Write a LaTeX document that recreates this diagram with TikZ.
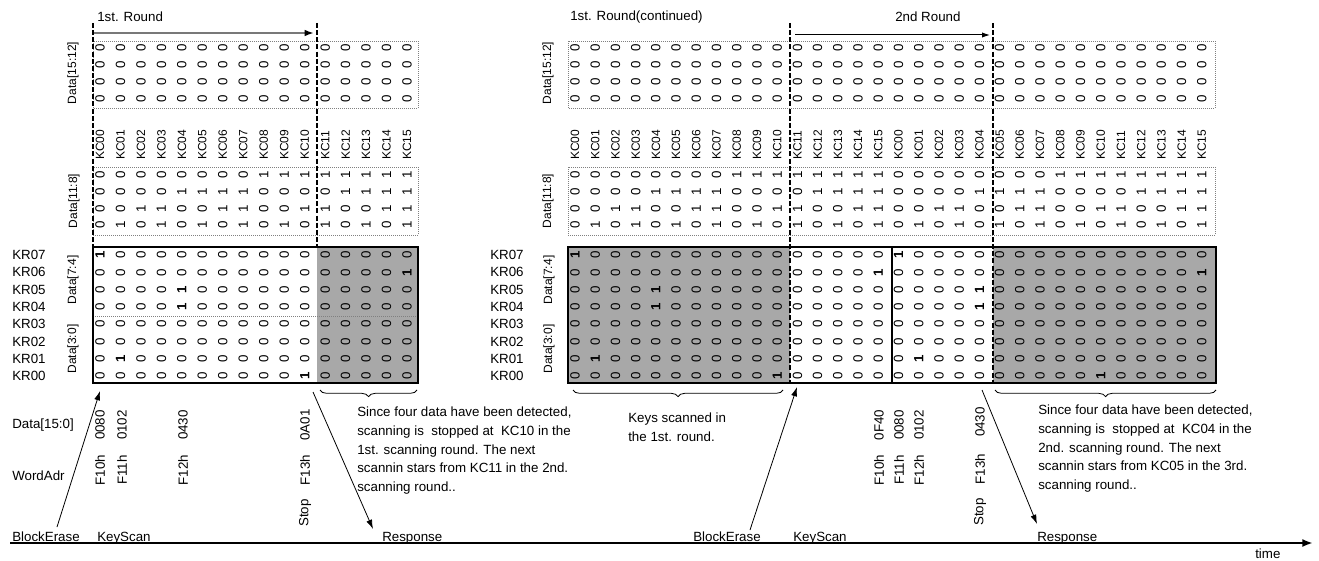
\documentclass[tikz,border=0pt]{standalone}
\usepackage{fontspec}
\setmainfont{Liberation Sans}
\usetikzlibrary{arrows.meta,decorations.pathreplacing}
\definecolor{shadegray}{RGB}{168,168,168}
\definecolor{arrgray}{RGB}{120,120,120}
\tikzset{
 dig/.style={rotate=90,inner sep=0pt,font=\fontsize{10}{10}\selectfont},
 kclab/.style={rotate=90,anchor=west,inner sep=0pt,font=\fontsize{9}{9}\selectfont},
 lab/.style={inner sep=0pt,font=\fontsize{10}{12}\selectfont},
 vlab/.style={rotate=90,inner sep=0pt,font=\fontsize{9}{9}\selectfont},
 rlab/.style={rotate=90,inner sep=0pt,font=\fontsize{10}{10}\selectfont},
 dotbox/.style={draw=gray,densely dotted,line width=0.5pt},
 thickbox/.style={draw=black,line width=2.1pt},
 vdash/.style={draw=black,line width=1.4pt,dash pattern=on 3.75pt off 1.6pt},
 ann/.style={inner sep=0pt,align=left,anchor=north west,font=\fontsize{10}{13.9}\selectfont},
 pointer/.style={draw=black,line width=0.6pt,-{Latex[length=7pt,width=4.5pt]}},
 bracestyle/.style={draw=black,line width=0.6pt,decorate,decoration={brace,mirror,amplitude=5pt}},
}
\newcommand\keybit[2]{\pgfmathtruncatemacro\kv{((#1==7)&&(#2==0))||((#1==6)&&(#2==15))||(((#1==5)||(#1==4))&&(#2==4))||((#1==1)&&(#2==1))||((#1==0)&&(#2==10))}}
\begin{document}
\begin{tikzpicture}[x=0.75pt,y=-0.75pt]
\useasboundingbox (0,0) rectangle (1319,560);

% ---------- shading and boxes ----------
\fill[shadegray] (317,247) rectangle (418,383);
\fill[shadegray] (568,247) rectangle (790,383);
\fill[shadegray] (993,247) rectangle (1216,383);
\draw[dotbox] (93,41) rectangle (418,108);
\draw[dotbox] (93,167) rectangle (418,235);
\draw[dotbox] (568,41) rectangle (1215,108);
\draw[dotbox] (568,167) rectangle (1215,235);
\draw[dotbox] (93,316) -- (418,316);
\draw[thickbox] (93,247) rectangle (418,383);
\draw[thickbox] (568,247) rectangle (1216,383);
\draw[draw=black,line width=2pt] (892,247) -- (892,383);

% ---------- dashed round boundaries ----------
\draw[vdash] (93,23) -- (93,247);
\draw[vdash] (317,23) -- (317,247);
\draw[vdash] (790,23) -- (790,383);
\draw[vdash] (993,23) -- (993,383);

% ---------- titles and top arrows ----------
\node[lab,anchor=west] (t1) at (97,17) {1st. Round};
\node[lab,anchor=west] (t2) at (570,17) {1st. Round(continued)};
\node[lab,anchor=west] (t3) at (895,17) {2nd Round};
\coordinate (ra1) at (94,33); \coordinate (ra2) at (314,33);
\draw[draw=arrgray,line width=1.5pt,-{Latex[length=7pt,width=5pt,color=black]}] (ra1) -- (ra2);
\coordinate (rb1) at (795,35); \coordinate (rb2) at (990,35);
\draw[draw=black,line width=0.75pt,-{Latex[length=6pt,width=4pt]}] (rb1) -- (rb2);

% ---------- side labels ----------
\node[vlab] (ld1) at (73,73) {Data[15:12]};
\node[vlab] (ld2) at (74,201) {Data[11:8]};
\node[vlab] (ld3) at (73,280) {Data[7:4]};
\node[vlab] (ld4) at (73,349) {Data[3:0]};
\node[vlab] (rd1) at (548,73) {Data[15:12]};
\node[vlab] (rd2) at (548,201) {Data[11:8]};
\node[vlab] (rd3) at (549,280) {Data[7:4]};
\node[vlab] (rd4) at (549,349) {Data[3:0]};
\foreach \r in {0,...,7}{
  \pgfmathtruncatemacro\kr{7-\r}
  \node[lab,anchor=west] (lkr\r) at (12,{255+17.3*\r}) {KR0\kr};
  \node[lab,anchor=west] (rkr\r) at (490,{255+17.3*\r}) {KR0\kr};
}

% ---------- left grid ----------
\foreach \i in {0,...,15}{
  \pgfmathsetmacro\xx{100+20.47*\i}
  \node[kclab] (lkc\i) at (\xx,160) {KC\ifnum\i<10 0\fi\i};
  \foreach \r in {0,...,3}{
    \node[dig] (lt\i-\r) at (\xx,{48+17*\r}) {0};
    \pgfmathtruncatemacro\bb{mod(floor(\i/2^(3-\r)),2)}
    \node[dig] (lm\i-\r) at (\xx,{175+16.7*\r}) {\bb};
  }
  \foreach \r in {0,...,7}{
    \pgfmathtruncatemacro\kr{7-\r}
    \keybit{\kr}{\i}
    \node[dig] (lb\i-\r) at (\xx,{255+17.3*\r}) {\ifnum\kv=1 \bfseries 1\else 0\fi};
  }
}

% ---------- right grid ----------
\foreach \j in {0,...,31}{
  \pgfmathsetmacro\xx{575+20.22*\j}
  \pgfmathtruncatemacro\kc{mod(\j,16)}
  \node[kclab] (rkc\j) at (\xx,160) {KC\ifnum\kc<10 0\fi\kc};
  \foreach \r in {0,...,3}{
    \node[dig] (rt\j-\r) at (\xx,{48+17*\r}) {0};
    \pgfmathtruncatemacro\bb{mod(floor(\kc/2^(3-\r)),2)}
    \node[dig] (rm\j-\r) at (\xx,{175+16.7*\r}) {\bb};
  }
  \foreach \r in {0,...,7}{
    \pgfmathtruncatemacro\kr{7-\r}
    \keybit{\kr}{\kc}
    \node[dig] (rb\j-\r) at (\xx,{255+17.3*\r}) {\ifnum\kv=1 \bfseries 1\else 0\fi};
  }
}

% ---------- braces ----------
\coordinate (b1a) at (320,390); \coordinate (b1b) at (417,390);
\coordinate (b2a) at (573,390); \coordinate (b2b) at (783,390);
\coordinate (b3a) at (995,390); \coordinate (b3b) at (1216,390);
\draw[bracestyle] (b1a) -- (b1b);
\draw[bracestyle] (b2a) -- (b2b);
\draw[bracestyle] (b3a) -- (b3b);

% ---------- annotations ----------
\node[ann] (n1) at (357,407) {Since four data have been detected,\\scanning is\ \ stopped at\ \ KC10 in the\\1st. scanning round. The next\\scannin stars from KC11 in the 2nd.\\scanning round..};
\node[ann] (n2) at (628,413) {Keys scanned in\\the 1st. round.};
\node[ann] (n3) at (1038,405) {Since four data have been detected,\\scanning is\ \ stopped at\ \ KC04 in the\\2nd. scanning round. The next\\scannin stars from KC05 in the 3rd.\\scanning round..};

% ---------- word labels ----------
\node[lab,anchor=west] (dl) at (12,425) {Data[15:0]};
\node[lab,anchor=west] (wl) at (12,476) {WordAdr};
\node[rlab] (d1) at (100,425) {0080};
\node[rlab] (d2) at (122,425) {0102};
\node[rlab] (d3) at (183,425) {0430};
\node[rlab] (d4) at (305,425) {0A01};
\node[rlab] (a1) at (100,470) {F10h};
\node[rlab] (a2) at (122,470) {F11h};
\node[rlab] (a3) at (183,470) {F12h};
\node[rlab] (a4) at (305,470) {F13h};
\node[rlab] (s1) at (305,513) {Stop};
\node[rlab] (d5) at (879,425) {0F40};
\node[rlab] (d6) at (899,425) {0080};
\node[rlab] (d7) at (919,425) {0102};
\node[rlab] (d8) at (980,422) {0430};
\node[rlab] (a5) at (879,470) {F10h};
\node[rlab] (a6) at (899,470) {F11h};
\node[rlab] (a7) at (919,470) {F12h};
\node[rlab] (a8) at (980,469) {F13h};
\node[rlab] (s2) at (980,512) {Stop};

% ---------- time axis ----------
\coordinate (ax0) at (10,543); \coordinate (ax1) at (1313,543);
\draw[draw=black,line width=1.9pt,-{Latex[length=8pt,width=6pt]}] (ax0) -- (ax1);
\node[lab,anchor=base west] (be1) at (12,541) {BlockErase};
\node[lab,anchor=base west] (ks1) at (97,541) {KeyScan};
\node[lab,anchor=base west] (rs1) at (382,541) {Response};
\node[lab,anchor=base west] (be2) at (693,541) {BlockErase};
\node[lab,anchor=base west] (ks2) at (793,541) {KeyScan};
\node[lab,anchor=base west] (rs2) at (1037,541) {Response};
\node[lab,anchor=base west] (tm) at (1255,558) {time};

% ---------- pointers ----------
\coordinate (p1a) at (57,527); \coordinate (p1b) at (100,391);
\coordinate (p2a) at (313,392); \coordinate (p2b) at (373,529);
\coordinate (p3a) at (750,530); \coordinate (p3b) at (797,387);
\coordinate (p4a) at (982,390); \coordinate (p4b) at (1037,524);
\draw[pointer] (p1a) -- (p1b);
\draw[pointer] (p2a) -- (p2b);
\draw[pointer] (p3a) -- (p3b);
\draw[pointer] (p4a) -- (p4b);
\end{tikzpicture}
\end{document}
